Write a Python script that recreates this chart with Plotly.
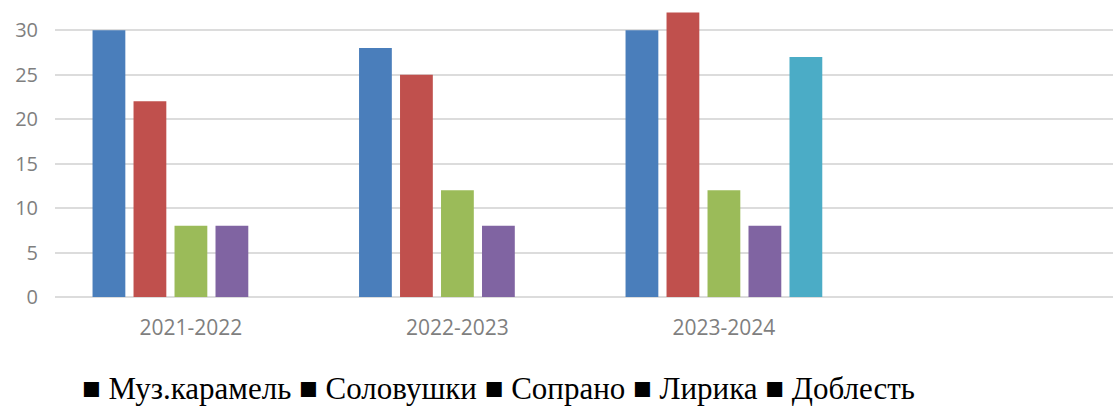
import plotly.graph_objects as go

categories = ["2021-2022", "2022-2023", "2023-2024"]
series_names = ["Муз.карамель", "Соловушки", "Сопрано", "Лирика", "Доблесть"]
muz_karamel = [30, 28, 30]
solovushki = [22, 25, 32]
soprano = [8, 12, 12]
lirika = [8, 8, 8]
doblest = [None, None, 27]
y_ticks = [0, 5, 10, 15, 20, 25, 30]

values = [muz_karamel, solovushki, soprano, lirika, doblest]
colors = ["#4A7EBB", "#C0504D", "#9BBB59", "#8064A2", "#4BACC6"]

fig = go.Figure()
for name, vals, col in zip(series_names, values, colors):
    fig.add_trace(go.Bar(x=categories, y=vals, name=name, marker_color=col,
                         marker_line_width=0))

fig.update_layout(
    width=1113, height=408,
    margin=dict(l=55, r=0, t=0, b=111),
    paper_bgcolor="white", plot_bgcolor="white",
    barmode="group", bargap=0.231, bargroupgap=0.2,
    showlegend=False,
    font=dict(family="Open Sans", color="#7F7F7F"),
)
fig.update_xaxes(
    range=[-0.510, 3.460], showgrid=False, showline=False, zeroline=False,
    tickfont=dict(size=21, color="#7F7F7F"),
    ticklabelstandoff=16, ticks="",
)
fig.update_yaxes(
    range=[0, 33.4], tickvals=y_ticks, showgrid=True, gridcolor="#DCDCDC",
    gridwidth=1.5, zeroline=True, zerolinecolor="#DCDCDC", zerolinewidth=1.5,
    showline=False, tickfont=dict(size=20, color="#7F7F7F"),
    ticklabelstandoff=16, ticks="",
)

legend_text = " ".join("■ " + n for n in series_names)
fig.add_annotation(
    text=legend_text, xref="paper", yref="paper",
    x=(498 - 55) / 1058, y=(297 - 388) / 297,
    xanchor="center", yanchor="middle", showarrow=False,
    font=dict(family="Liberation Serif", size=31, color="black"),
)

fig.write_html("out.html", config={"displayModeBar": False},
               post_script="document.body.style.margin='0';document.body.style.padding='0';")
